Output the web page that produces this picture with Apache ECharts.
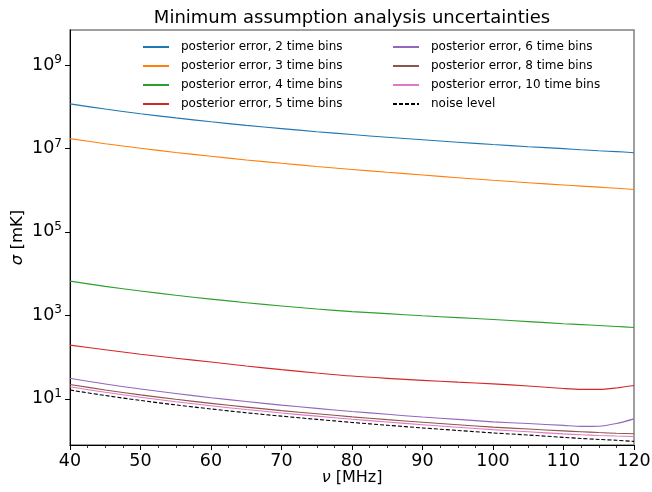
<!DOCTYPE html>
<html>
<head>
<meta charset="utf-8">
<script src="https://cdn.jsdelivr.net/npm/echarts@6/dist/echarts.min.js"></script>
<style>
html,body{margin:0;padding:0;background:#fff;}
#chart{width:652px;height:492px;}
</style>
</head>
<body>
<div id="chart"></div>
<script>
const freq = [40,45,50,55,60,65,70,75,80,85,90,95,100,105,110,112.5,115,117.5,120];
const err2 = [1.17e8,8.8e7,6.8e7,5.4e7,4.35e7,3.57e7,2.99e7,2.52e7,2.15e7,1.85e7,1.61e7,1.41e7,1.24e7,1.10e7,9.9e6,9.3e6,8.8e6,8.4e6,7.9e6];
const err3 = [1.72e7,1.30e7,1.01e7,8.0e6,6.5e6,5.3e6,4.4e6,3.7e6,3.14e6,2.68e6,2.31e6,1.99e6,1.73e6,1.51e6,1.33e6,1.25e6,1.18e6,1.11e6,1.04e6];
const err4 = [6600,4950,3830,3030,2450,2010,1680,1415,1230,1096,977,881,794,708,631,600,569,540,513];
const err5 = [193,150,117,94,76,61,50,41.5,35,30.8,27.6,25.0,22.7,20.3,17.6,16.8,16.8,18.2,20.9];
const err6 = [31,22.6,17.2,13.4,10.6,8.6,7.05,5.9,4.95,4.25,3.65,3.2,2.8,2.55,2.3,2.18,2.2,2.55,3.3];
const err8 = [22.0,16.3,12.4,9.7,7.75,6.3,5.2,4.37,3.69,3.16,2.73,2.38,2.09,1.88,1.70,1.62,1.55,1.49,1.45];
const err10 = [19.4,14.3,10.9,8.5,6.8,5.52,4.57,3.83,3.23,2.77,2.39,2.08,1.82,1.62,1.44,1.37,1.32,1.28,1.25];
const noise = [16.2,11.97,9.12,7.13,5.70,4.63,3.83,3.21,2.71,2.32,2.00,1.74,1.52,1.35,1.19,1.12,1.06,1.01,0.953];
const yTicks = [10,1e3,1e5,1e7,1e9];
const names = ['posterior error, 2 time bins','posterior error, 3 time bins','posterior error, 4 time bins','posterior error, 5 time bins','posterior error, 6 time bins','posterior error, 8 time bins','posterior error, 10 time bins','noise level'];
const colors = ['#1f77b4','#ff7f0e','#2ca02c','#d62728','#9467bd','#8c564b','#e377c2','#000000'];
const values = [err2,err3,err4,err5,err6,err8,err10,noise];

const FONT = 'DejaVu Sans';
const chart = echarts.init(document.getElementById('chart'), null, {renderer:'canvas'});
const series = values.map((vals, k) => ({
  name: names[k],
  type: 'line',
  data: freq.map((f, i) => [f, vals[i]]),
  symbol: 'none',
  showSymbol: false,
  smooth: 0.3,
  lineStyle: {color: colors[k], width: 1.1, type: k === 7 ? [4, 2] : 'solid'},
  itemStyle: {color: colors[k]},
  z: 2 + k
}));
const legendCommon = {
  orient: 'vertical', padding: 0, itemGap: 7, itemWidth: 26, itemHeight: 12,
  itemStyle: {opacity: 0},
  textStyle: {fontSize: 12, fontFamily: FONT, color: '#000', padding: [0,0,0,7]}
};
chart.setOption({
  animation: false,
  backgroundColor: '#fff',
  title: {
    text: 'Minimum assumption analysis uncertainties',
    left: 347, top: 4, textAlign: 'center',
    textStyle: {fontSize: 18, fontWeight: 'normal', fontFamily: FONT, color: '#000'}
  },
  legend: [
    Object.assign({left: 142, top: 41, data: names.slice(0,4)}, legendCommon),
    Object.assign({left: 392, top: 41, data: names.slice(4)}, legendCommon)
  ],
  grid: {left: 70, right: 18, top: 30, bottom: 47, outerBoundsMode: 'none', containLabel: false, show: true, borderColor: '#808080', borderWidth: 1.5, backgroundColor: 'transparent'},
  xAxis: {
    type: 'value', min: 40, max: 120, interval: 10,
    name: '{i|ν} [MHz]', nameLocation: 'middle', nameGap: 25, nameMoveOverlap: false,
    nameTextStyle: {fontSize: 16, fontFamily: FONT, color: '#000', rich: {i: {fontStyle: 'italic', fontSize: 16, fontFamily: FONT}}},
    axisLine: {show: true, lineStyle: {color: '#000', width: 1}},
    axisTick: {show: true, inside: false, length: 5, lineStyle: {color: '#000', width: 1}},
    minorTick: {show: true, splitNumber: 4, length: 3, lineStyle: {color: '#000', width: 0.8}},
    axisLabel: {fontSize: 17.5, fontFamily: FONT, color: '#000', margin: 7},
    splitLine: {show: false}, minorSplitLine: {show: false}
  },
  yAxis: {
    type: 'log', logBase: 10, min: 0.78, max: 6.9e9,
    name: '{i|σ} [mK]', nameLocation: 'middle', nameGap: 44, nameMoveOverlap: false,
    nameTextStyle: {fontSize: 16.5, fontFamily: FONT, color: '#000', rich: {i: {fontStyle: 'italic', fontSize: 16.5, fontFamily: FONT}}},
    axisLine: {show: true, lineStyle: {color: '#000', width: 1}},
    axisTick: {show: true, inside: false, length: 5, customValues: yTicks, lineStyle: {color: '#000', width: 1}},
    axisLabel: {
      customValues: yTicks, margin: 8, fontFamily: FONT, color: '#000',
      formatter: v => '{b|10}{s|' + Math.round(Math.log10(v)) + '}',
      rich: {b: {fontSize: 17.5, fontFamily: FONT, color: '#000'}, s: {fontSize: 12, fontFamily: FONT, color: '#000', padding: [0,0,10,0]}}
    },
    splitLine: {show: false}, minorTick: {show: false}
  },
  series: series
});
</script>
</body>
</html>
